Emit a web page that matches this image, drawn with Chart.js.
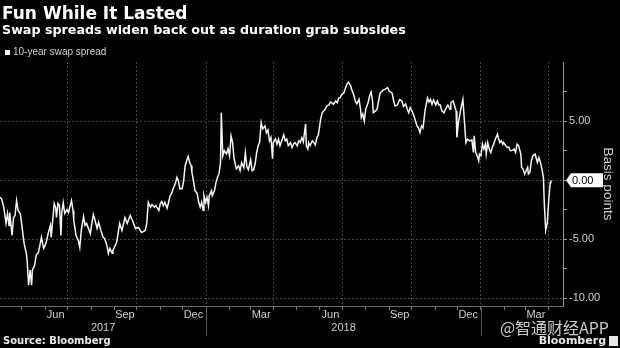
<!DOCTYPE html>
<html>
<head>
<meta charset="utf-8">
<script src="https://cdn.jsdelivr.net/npm/chart.js@4.4.1/dist/chart.umd.min.js"></script>
<style>
  html, body { margin: 0; padding: 0; background: #000; }
  #wrap { position: relative; width: 620px; height: 348px; }
</style>
</head>
<body>
<div id="wrap"><canvas id="swapChart" width="620" height="348"></canvas></div>
<script>
const titleText = 'Fun While It Lasted';
const subtitleText = 'Swap spreads widen back out as duration grab subsides';
const seriesName = '10-year swap spread';
const axisTitle = 'Basis points';
const sourceText = 'Source: Bloomberg';

// day 0 = startDate
const startDate = '2017-04-02';
const endDate = '2019-04-20';
const daysSinceStart = [
  0,2,5,8,10,12,13,16,18,20,
  22,24,27,29,32,35,36,38,40,42,
  43,46,48,51,53,55,58,60,62,64,
  67,68,70,72,74,75,77,79,81,82,
  84,86,89,91,93,95,97,98,101,104,
  106,108,111,113,115,117,120,122,124,126,
  129,131,134,137,139,142,144,146,149,150,
  155,159,162,166,169,173,176,180,184,188,
  193,195,197,200,202,205,207,211,213,215,
  217,219,222,224,226,228,230,233,235,237,
  239,242,244,246,248,250,252,254,255,257,
  259,262,264,266,268,270,271,273,275,277,
  278,281,282,285,287,289,291,293,294,296,
  298,301,303,305,307,309,311,314,317,319,
  321,324,326,328,330,333,335,337,339,341,
  343,345,347,349,352,354,356,358,360,362,
  363,366,368,370,372,375,377,379,381,383,
  386,388,390,392,395,397,399,401,403,406,
  407,409,410,412,415,417,419,421,423,426,
  428,430,432,434,437,439,441,443,446,448,
  450,452,454,457,459,461,463,466,467,470,
  472,474,477,479,480,482,484,486,489,491,
  493,495,496,499,501,503,505,509,512,515,
  517,521,523,525,528,531,534,536,539,541,
  543,545,548,550,552,554,556,558,560,562,
  565,568,570,572,574,576,579,581,583,585,
  587,590,592,595,598,599,602,604,606,607,
  609,611,613,615,617,619,621,624,627,629,
  630,632,634,636,637,639,641,643,645,646,
  648,650,652,654,656,658,661,662,664,666,
  668,669,672,674,676,678,681,683,685,687,
  689,692,693,695,697,699,701,702,704,706,
  708,711,714,716,718,720,722,723,725,727,
  729,731,732
];
const spreadBps = [
  -1.45,-1.56,-2.29,-3.66,-2.82,-3.83,-2.74,-4.68,-3.16,-2.99,
  -1.73,-2.57,-2.82,-3.83,-5.35,-6.19,-6.78,-8.89,-7.62,-8.89,
  -7.62,-7.20,-6.36,-6.11,-5.52,-4.84,-5.77,-5.52,-5.10,-4.51,
  -3.83,-4.84,-3.41,-1.98,-2.32,-3.16,-1.98,-2.15,-4.68,-2.82,
  -1.90,-2.82,-2.49,-2.74,-2.23,-1.73,-2.57,-3.41,-4.68,-5.10,
  -5.69,-4.25,-3.08,-3.83,-3.66,-4.00,-4.51,-3.66,-2.91,-3.33,
  -4.09,-3.58,-4.25,-4.84,-4.93,-5.52,-6.19,-5.77,-6.19,-5.94,
  -5.27,-3.66,-4.25,-3.16,-3.66,-2.99,-3.41,-4.09,-4.00,-4.42,
  -4.25,-3.66,-1.87,-2.29,-2.06,-2.29,-2.15,-2.57,-1.98,-1.81,
  -2.15,-1.87,-2.38,-1.87,-1.31,-1.14,-0.72,-0.29,0.24,-0.04,
  -0.72,-0.72,-0.04,1.22,1.64,2.01,1.50,1.22,0.66,-0.04,
  -0.88,-1.14,-1.87,-2.29,-1.87,-2.57,-1.31,-1.87,-1.45,-2.15,
  -1.31,-0.88,-1.31,-0.88,-0.19,0.24,0.55,1.50,5.71,2.06,
  2.49,2.23,2.65,2.06,3.75,3.18,1.81,0.97,1.22,0.80,
  1.47,1.05,2.32,1.14,0.88,1.73,0.80,0.88,1.39,2.32,
  2.91,3.24,4.87,4.34,4.59,4.00,4.25,3.33,3.61,1.81,
  3.18,3.50,3.05,3.47,2.91,3.47,3.83,3.33,3.47,2.91,
  3.18,2.76,3.05,3.18,2.91,3.33,3.18,3.58,3.24,4.76,
  2.91,2.65,3.18,2.91,3.33,3.18,2.99,3.61,3.83,5.16,
  5.69,5.86,6.00,6.28,6.36,6.61,6.55,6.42,6.70,6.55,
  6.95,6.98,7.26,7.40,7.79,8.13,8.30,7.96,7.71,7.20,
  6.70,6.45,6.84,6.02,5.29,5.60,5.01,6.02,6.55,7.12,
  7.46,6.70,5.71,5.86,6.02,6.70,7.37,7.62,7.71,7.84,
  7.54,7.37,6.70,6.28,6.36,6.82,6.70,6.23,6.45,6.02,
  5.71,6.13,5.77,5.43,5.01,4.59,4.42,4.03,4.59,4.42,
  6.02,6.95,6.61,6.84,6.42,6.78,6.36,6.70,6.36,6.36,
  5.86,5.71,6.02,6.36,6.00,6.55,6.70,6.28,5.86,3.61,
  4.87,5.58,6.28,6.84,5.01,3.18,3.47,3.33,3.39,2.34,
  3.75,2.34,2.06,1.64,2.21,2.06,3.05,2.63,3.05,2.21,
  3.18,2.63,2.34,2.76,3.05,3.47,3.89,3.61,3.18,3.33,
  3.05,3.18,2.91,2.76,2.80,2.49,2.52,2.63,2.34,3.05,
  2.91,2.21,1.08,0.94,0.52,0.80,1.08,0.52,0.66,1.64,
  2.06,2.21,1.50,1.92,1.50,0.94,0.24,-1.73,-4.25,-3.69,
  -1.73,-0.21,0.00
];

const monthLabels = ['Jun', 'Sep', 'Dec', 'Mar', 'Jun', 'Sep', 'Dec', 'Mar'];
const monthLabelDates = ['2017-06-15', '2017-09-15', '2017-12-15', '2018-03-15',
                         '2018-06-15', '2018-09-15', '2018-12-15', '2019-03-15'];
const yearLabels = ['2017', '2018'];
const yearStarts = ['2018-01-01', '2019-01-01'];
const yTicks = [-10, -7.5, -5, -2.5, 0, 2.5, 5, 7.5];

const DAY = 86400000;
const dayOf = s => (Date.parse(s) - Date.parse(startDate)) / DAY;

// month starts for tick marks, quarter starts get a grid line
const monthStarts = [];
for (let yr = 2017; yr <= 2019; yr++) {
  for (let m = 0; m < 12; m++) {
    const d = new Date(Date.UTC(yr, m, 1));
    const off = (d - Date.parse(startDate)) / DAY;
    if (off > 0 && off < dayOf(endDate)) monthStarts.push({ value: off, quarter: m % 3 === 0 });
  }
}
const quarterDays = monthStarts.filter(t => t.quarter).map(t => t.value);

const gridColor = '#444444';
const labelColor = '#cfcfcf';
const FONT = '"Liberation Sans", Arial, sans-serif';
Chart.defaults.font.family = FONT;

const bbgText = {
  id: 'bbgText',
  beforeDraw(chart) {
    const ctx = chart.ctx;
    ctx.save();
    ctx.fillStyle = '#000';
    ctx.fillRect(0, 0, chart.width, chart.height);
    ctx.restore();
  },
  afterDraw(chart) {
    const { ctx, scales: { x, y }, chartArea } = chart;
    ctx.save();
    ctx.textAlign = 'left';
    ctx.textBaseline = 'alphabetic';
    ctx.fillStyle = '#ffffff';
    ctx.font = 'bold 17px "DejaVu Sans"';
    ctx.fillText(titleText, 2, 19);
    ctx.font = 'bold 12.7px "DejaVu Sans"';
    ctx.fillText(subtitleText, 2, 34);

    // legend
    ctx.fillRect(5, 50, 5, 5);
    ctx.fillStyle = labelColor;
    ctx.font = '10px ' + FONT;
    ctx.textBaseline = 'middle';
    ctx.fillText(seriesName, 13, 52.5);

    // month labels
    ctx.textAlign = 'center';
    ctx.font = '11px ' + FONT;
    monthLabels.forEach((lab, i) => {
      ctx.fillText(lab, x.getPixelForValue(dayOf(monthLabelDates[i])), 315);
    });

    // year labels and separators
    const bounds = [x.min, ...yearStarts.map(dayOf)];
    yearLabels.forEach((lab, i) => {
      const a = x.getPixelForValue(bounds[i]);
      const b = x.getPixelForValue(bounds[i + 1]);
      ctx.fillText(lab, (a + b) / 2, 328);
    });
    ctx.strokeStyle = '#5a5a5a';
    ctx.lineWidth = 1;
    yearStarts.forEach(d => {
      const px = Math.round(x.getPixelForValue(dayOf(d))) + 0.5;
      ctx.beginPath();
      ctx.moveTo(px, chartArea.bottom + 2);
      ctx.lineTo(px, 336);
      ctx.stroke();
    });

    // last value marker
    const last = spreadBps[spreadBps.length - 1];
    const py = y.getPixelForValue(last);
    const bx = chartArea.right + 3;
    ctx.fillStyle = '#ffffff';
    ctx.beginPath();
    ctx.moveTo(bx, py);
    ctx.lineTo(bx + 5, py - 7);
    ctx.lineTo(bx + 37, py - 7);
    ctx.lineTo(bx + 37, py + 7);
    ctx.lineTo(bx + 5, py + 7);
    ctx.closePath();
    ctx.fill();
    ctx.fillStyle = '#000';
    ctx.textAlign = 'left';
    ctx.font = '11px ' + FONT;
    ctx.fillText(last.toFixed(2), bx + 6, py + 0.5);

    // footer
    ctx.textBaseline = 'middle';
    ctx.fillStyle = '#e8e8e8';
    ctx.font = 'bold 10px "DejaVu Sans"';
    ctx.fillText(sourceText, 3, 341);
    ctx.textAlign = 'right';
    ctx.font = 'bold 11px "DejaVu Sans"';
    ctx.fillText('Bloomberg', 606, 341);
    ctx.fillRect(609, 336, 9, 10);

    // watermark
    ctx.fillStyle = 'rgba(235,235,235,0.85)';
    ctx.font = '16px "Noto Sans CJK SC", sans-serif';
    ctx.fillText('@智通财经APP', 609, 328);
    ctx.restore();
  }
};

new Chart(document.getElementById('swapChart'), {
  type: 'line',
  data: {
    datasets: [{
      label: seriesName,
      data: daysSinceStart.map((d, i) => ({ x: d, y: spreadBps[i] })),
      borderColor: '#f4f4f4',
      borderWidth: 1.5,
      pointRadius: 0,
      tension: 0,
      fill: false
    }]
  },
  options: {
    responsive: false,
    animation: false,
    devicePixelRatio: 1,
    layout: { padding: { top: 62, left: 0, right: 0, bottom: 0 } },
    plugins: {
      legend: { display: false },
      title: { display: false },
      tooltip: { enabled: false }
    },
    scales: {
      x: {
        type: 'linear',
        min: 0,
        max: dayOf(endDate),
        afterBuildTicks: s => { s.ticks = monthStarts.map(t => ({ value: t.value })); },
        afterFit: s => { s.height = 42; },
        ticks: { display: false },
        grid: {
          color: c => (c.tick && quarterDays.includes(c.tick.value)) ? gridColor : 'rgba(0,0,0,0)',
          tickColor: '#777',
          tickLength: 4
        },
        border: { color: '#6a6a6a', dash: [2, 2] }
      },
      y: {
        position: 'right',
        min: -10.65,
        max: 10,
        afterBuildTicks: s => { s.ticks = yTicks.map(v => ({ value: v })); },
        afterFit: s => { s.width = 57; },
        ticks: {
          color: labelColor,
          font: { size: 11 },
          padding: 2,
          callback: v => (v % 5 === 0 ? v.toFixed(2) : '')
        },
        grid: {
          color: c => (c.tick && c.tick.value % 5 === 0) ? gridColor : 'rgba(0,0,0,0)',
          tickColor: '#9a9a9a',
          tickLength: 4
        },
        border: { color: '#9a9a9a', dash: [2, 2] },
        title: { display: true, text: axisTitle, color: labelColor, font: { size: 13.5 } }
      }
    }
  },
  plugins: [bbgText]
});
</script>
</body>
</html>
